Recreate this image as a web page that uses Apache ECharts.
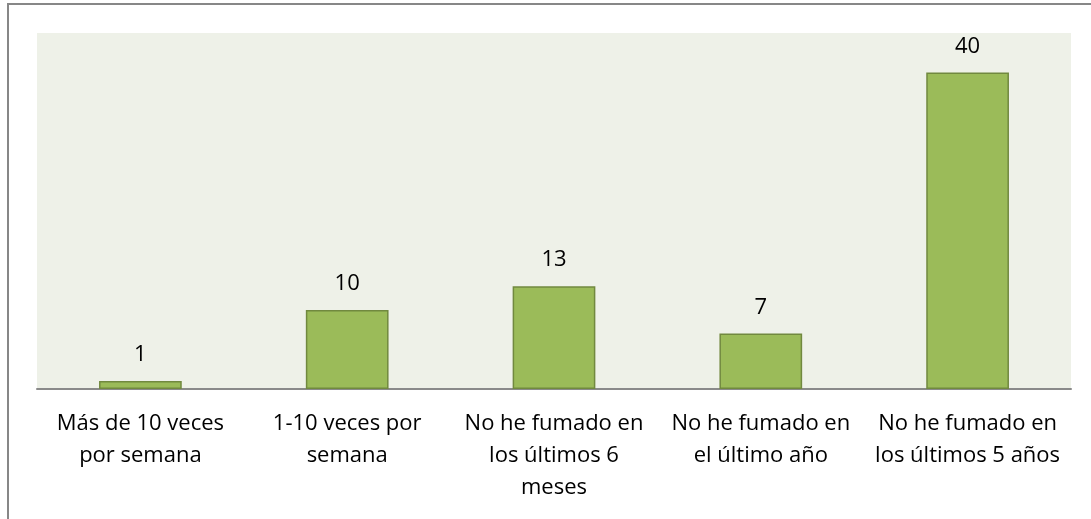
<!DOCTYPE html>
<html>
<head>
<meta charset="utf-8">
<script src="https://cdn.jsdelivr.net/npm/echarts@6/dist/echarts.min.js"></script>
<style>
  html, body { margin: 0; padding: 0; background: #fff; overflow: hidden; }
  #chart { position: absolute; left: 0; top: 0; width: 1091px; height: 519px; }
  #frame { position: absolute; left: 7px; top: 3px; width: 1200px; height: 700px;
           border-left: 2px solid #878787; border-top: 2px solid #878787; pointer-events: none; }
</style>
</head>
<body>
<div id="chart"></div>
<div id="frame"></div>
<script>
  // categorías (con saltos de línea como en el original)
  const categories = [
    'Más de 10 veces\npor semana',
    '1-10 veces por\nsemana',
    'No he fumado en\nlos últimos 6\nmeses',
    'No he fumado en\nel último año',
    'No he fumado en\nlos últimos 5 años'
  ];
  const values = [1, 10, 13, 7, 40];
  const yMax = 45;

  const chart = echarts.init(document.getElementById('chart'));
  chart.setOption({
    animation: false,
    textStyle: { fontFamily: 'Open Sans' },
    grid: {
      left: 37,
      right: 20,
      top: 33,
      bottom: 130,
      show: true,
      backgroundColor: '#eef1e8',
      borderWidth: 0
    },
    xAxis: {
      type: 'category',
      data: categories,
      axisLine: { lineStyle: { color: '#8a8a8a', width: 2 } },
      axisTick: { show: false },
      axisLabel: {
        color: '#000',
        fontSize: 22,
        lineHeight: 32,
        margin: 19,
        interval: 0
      }
    },
    yAxis: {
      type: 'value',
      min: 0,
      max: yMax,
      show: false,
      splitLine: { show: false }
    },
    series: [{
      type: 'bar',
      data: values,
      barWidth: '40%',
      itemStyle: { color: '#9bbb59', borderColor: '#71893f', borderWidth: 1.5 },
      label: {
        show: true,
        position: 'top',
        distance: 15,
        color: '#000',
        fontSize: 22
      }
    }]
  });
</script>
</body>
</html>
